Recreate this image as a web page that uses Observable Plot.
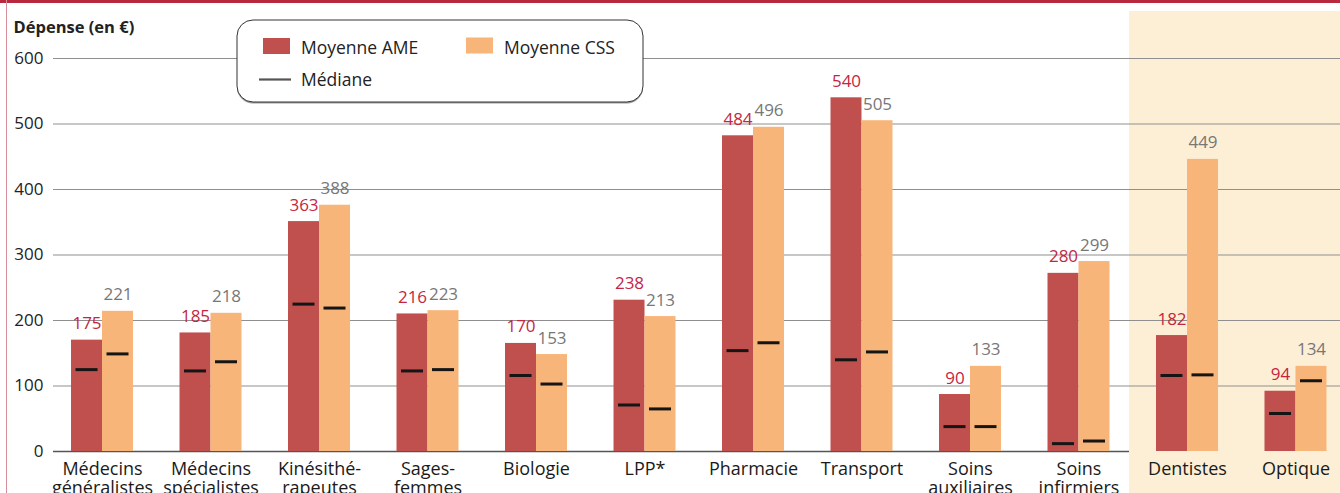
<!DOCTYPE html>
<html>
<head>
<meta charset="utf-8">
<script src="https://cdn.jsdelivr.net/npm/d3@7"></script>
<script src="https://cdn.jsdelivr.net/npm/@observablehq/plot@0.6"></script>
<style>
  html, body { margin: 0; padding: 0; background: #fff; }
  #wrap { position: relative; width: 1340px; height: 493px; overflow: hidden; font-family: "Open Sans", sans-serif; }
  #wrap > svg { position: absolute; left: 0; top: 0; }
  #topbar { position: absolute; left: 0; top: 0; width: 1340px; height: 3px; background: #b8283f; z-index: 3; }
  #leftbar { position: absolute; left: 6px; top: 0; width: 1px; height: 493px; background: #d98f9b; z-index: 3; }
  #overlay { position: absolute; left: 0; top: 0; z-index: 2; pointer-events: none; }
</style>
</head>
<body>
<div id="wrap">
  <div id="topbar"></div>
  <div id="leftbar"></div>
</div>
<script>
// ---- data ----
const categories = ["Médecins généralistes", "Médecins spécialistes", "Kinésithérapeutes", "Sages-femmes", "Biologie", "LPP*", "Pharmacie", "Transport", "Soins auxiliaires", "Soins infirmiers", "Dentistes", "Optique"];
const categoryLabels = ["Médecins\ngénéralistes", "Médecins\nspécialistes", "Kinésithé-\nrapeutes", "Sages-\nfemmes", "Biologie", "LPP*", "Pharmacie", "Transport", "Soins\nauxiliaires", "Soins\ninfirmiers", "Dentistes", "Optique"];
// bar heights as drawn
const ameMean = [170, 181, 351, 210, 165, 231, 482, 540, 87, 272, 177, 92];
const cssMean = [214, 211, 376, 215, 148, 206, 495, 505, 130, 290, 446, 130];
// printed value labels
const ameLabels = ["175", "185", "363", "216", "170", "238", "484", "540", "90", "280", "182", "94"];
const cssLabels = ["221", "218", "388", "223", "153", "213", "496", "505", "133", "299", "449", "134"];
// medians
const ameMedian = [125, 123, 225, 123, 116, 71, 154, 140, 38, 12, 116, 58];
const cssMedian = [149, 137, 219, 125, 103, 65, 166, 152, 38, 16, 117, 108];
const highlighted = ["Dentistes", "Optique"];
const yTicks = [0, 100, 200, 300, 400, 500, 600];
const seriesNames = ["Moyenne AME", "Moyenne CSS", "Médiane"];
const yTitle = "Dépense (en €)";

const AME = "#c0504d", CSS = "#f8b57a", SHADE = "#fdefd6";

const rows = categories.map((c, i) => ({
  cat: c, label: categoryLabels[i],
  ame: ameMean[i], css: cssMean[i],
  ameL: ameLabels[i], cssL: cssLabels[i],
  ameM: ameMedian[i], cssM: cssMedian[i]
}));

const chart = Plot.plot({
  width: 1340, height: 493,
  marginLeft: 53, marginRight: 0, marginTop: 58, marginBottom: 42,
  x: { type: "band", domain: categories, range: [53, 1344.5], paddingInner: 0.4286, paddingOuter: 0.166, align: 0.5, round: false, axis: null },
  y: { domain: [0, 600], range: [451, 58], axis: null },
  style: { fontFamily: '"Open Sans", sans-serif', background: "transparent", color: "#222", overflow: "visible" },
  marks: [
    Plot.ruleY([0], { stroke: "#555", strokeWidth: 1.5 }),
    Plot.cell(highlighted, { x: d => d, fill: SHADE, insetLeft: -27, insetRight: -30, insetTop: -47, insetBottom: -45 }),
    Plot.ruleY(yTicks.filter(d => d > 0), { stroke: "#8f8f8f", strokeWidth: 1.2 }),
    Plot.axisY({ ticks: yTicks, tickSize: 0, tickPadding: 10, label: null, fontSize: 17, fill: "#222" }),
    Plot.barY(rows, { x: "cat", y: "ame", fill: AME, insetRight: 31 }),
    Plot.barY(rows, { x: "cat", y: "css", fill: CSS, insetLeft: 31 }),
    Plot.tickY(rows, { x: "cat", y: "ameM", stroke: "#151515", strokeWidth: 3, insetLeft: 4.5, insetRight: 35.5 }),
    Plot.tickY(rows, { x: "cat", y: "cssM", stroke: "#151515", strokeWidth: 3, insetLeft: 35.5, insetRight: 4.5 }),
    Plot.text(rows, { x: "cat", y: "ame", text: "ameL", dx: -15.5, dy: -11, lineAnchor: "bottom", fill: "#c4263f", fontSize: 17 }),
    Plot.text(rows, { x: "cat", y: "css", text: "cssL", dx: 15.5, dy: -11, lineAnchor: "bottom", fill: "#777", fontSize: 17 }),
    Plot.text(rows, { x: "cat", text: "label", frameAnchor: "bottom", lineAnchor: "top", dy: 9, fontSize: 18, lineHeight: 1.1, fill: "#1a1a1a" })
  ]
});
document.getElementById("wrap").appendChild(chart);

// ---- overlay: axis title + legend ----
const ov = d3.select("#wrap").append("svg").attr("id", "overlay").attr("width", 1340).attr("height", 493)
  .style("font-family", '"Open Sans", sans-serif');
ov.append("text").attr("x", 13.5).attr("y", 33).attr("font-size", 16.5).attr("font-weight", 700).attr("fill", "#222").text(yTitle);

const lg = ov.append("g").attr("transform", "translate(236,19)");
lg.append("rect").attr("x", 1).attr("y", 2.5).attr("width", 406).attr("height", 82).attr("rx", 16).attr("fill", "#9a9a9a");
lg.append("rect").attr("x", 1).attr("y", 1).attr("width", 406).attr("height", 82).attr("rx", 16).attr("fill", "#fff").attr("stroke", "#333").attr("stroke-width", 1);
lg.append("rect").attr("x", 27).attr("y", 19).attr("width", 27).attr("height", 16).attr("fill", AME);
lg.append("text").attr("x", 65).attr("y", 35).attr("font-size", 17.5).attr("fill", "#222").text(seriesNames[0]);
lg.append("rect").attr("x", 230).attr("y", 18.5).attr("width", 27).attr("height", 16).attr("fill", CSS);
lg.append("text").attr("x", 268).attr("y", 35).attr("font-size", 17.5).attr("fill", "#222").text(seriesNames[1]);
lg.append("line").attr("x1", 23).attr("x2", 55).attr("y1", 60.5).attr("y2", 60.5).attr("stroke", "#555").attr("stroke-width", 2.2);
lg.append("text").attr("x", 65).attr("y", 67).attr("font-size", 17.5).attr("fill", "#222").text(seriesNames[2]);
</script>
</body>
</html>
